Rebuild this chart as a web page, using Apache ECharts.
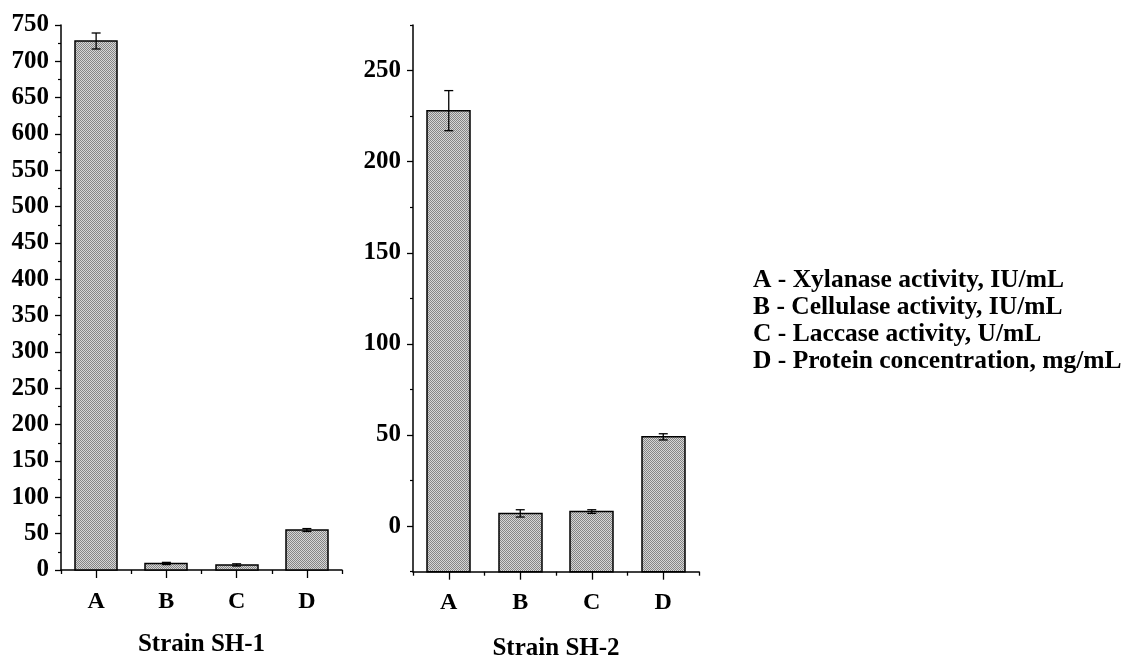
<!DOCTYPE html>
<html>
<head>
<meta charset="utf-8">
<script src="https://cdn.jsdelivr.net/npm/echarts@6/dist/echarts.min.js"></script>
<style>
html,body{margin:0;padding:0;background:#fff;}
#chart{width:1130px;height:661px;}
</style>
</head>
<body>
<div id="chart"></div>
<script>
var categories = ['A', 'B', 'C', 'D'];
var sh1Values = [728, 9, 7, 55];
var sh1Errors = [11, 1.5, 1.5, 2];
var sh2Values = [228, 7, 8, 49];
var sh2Errors = [11, 2, 1, 1.7];
var sh1Ticks = [0, 50, 100, 150, 200, 250, 300, 350, 400, 450, 500, 550, 600, 650, 700, 750];
var sh2Ticks = [0, 50, 100, 150, 200, 250];
var sh2MinorTicks = [-25, 25, 75, 125, 175, 225, 275];
var panelNames = ['Strain SH-1', 'Strain SH-2'];
var legendLines = [
  'A - Xylanase activity, IU/mL',
  'B - Cellulase activity, IU/mL',
  'C - Laccase activity, U/mL',
  'D - Protein concentration, mg/mL'
];

var FONT = '"Liberation Serif", "Times New Roman", serif';

// dithered grey fill similar to the halftone texture of the original
var patCanvas = document.createElement('canvas');
patCanvas.width = 2; patCanvas.height = 2;
(function () {
  var g = patCanvas.getContext('2d');
  g.fillStyle = '#d6d6d6'; g.fillRect(0, 0, 2, 2);
  g.fillStyle = '#858585'; g.fillRect(0, 0, 1, 1); g.fillRect(1, 1, 1, 1);
})();
var BAR_FILL = { image: patCanvas, repeat: 'repeat' };

function makeRender(baseValue) {
  return function (params, api) {
    var c = api.value(0), v = api.value(1), e = api.value(2);
    var top = api.coord([c, v]);
    var base = api.coord([c, baseValue]);
    var bw = api.size([1, 0])[0] * 0.6;
    var eTop = api.coord([c, v + e]);
    var eBot = api.coord([c, v - e]);
    var cap = 4.5;
    var lw = { stroke: '#000', lineWidth: 1.3 };
    return {
      type: 'group',
      children: [
        { type: 'rect', shape: { x: Math.round(top[0] - bw / 2), y: top[1], width: Math.round(bw), height: base[1] - top[1] },
          style: { fill: BAR_FILL, stroke: '#000', lineWidth: 1.5 } },
        { type: 'line', shape: { x1: top[0], y1: eTop[1], x2: top[0], y2: eBot[1] }, style: lw },
        { type: 'line', shape: { x1: top[0] - cap, y1: eTop[1], x2: top[0] + cap, y2: eTop[1] }, style: lw },
        { type: 'line', shape: { x1: top[0] - cap, y1: eBot[1], x2: top[0] + cap, y2: eBot[1] }, style: lw }
      ]
    };
  };
}

function toData(vals, errs) {
  return vals.map(function (v, i) { return [i, v, errs[i]]; });
}

var axisLineStyle = { color: '#000', width: 1.5 };

function mainX(gridIndex, name, nameGap, labelMargin) {
  return {
    type: 'category', gridIndex: gridIndex, data: categories, position: 'bottom',
    axisLine: { show: true, onZero: false, lineStyle: axisLineStyle },
    axisTick: { show: true, length: 4, lineStyle: { color: '#000', width: 1.3 } },
    axisLabel: { color: '#000', fontFamily: FONT, fontWeight: 'bold', fontSize: 24, margin: labelMargin },
    name: name, nameLocation: 'middle', nameGap: nameGap,
    nameTextStyle: { color: '#000', fontFamily: FONT, fontWeight: 'bold', fontSize: 25 },
    splitLine: { show: false }
  };
}
function centerX(gridIndex) {
  return {
    type: 'category', gridIndex: gridIndex, data: categories, position: 'bottom',
    axisLine: { show: false, onZero: false },
    axisTick: { show: true, alignWithLabel: true, length: 8, lineStyle: { color: '#000', width: 1.3 } },
    axisLabel: { show: false },
    splitLine: { show: false }
  };
}

var yLabel = { color: '#000', fontFamily: FONT, fontWeight: 'bold', fontSize: 25, margin: 12 };

var option = {
  backgroundColor: '#fff',
  animation: false,
  grid: [
    { left: 61, top: 25, width: 281, height: 545, outerBoundsMode: 'none', containLabel: false },
    { left: 413, top: 25, width: 286, height: 546.7, outerBoundsMode: 'none', containLabel: false }
  ],
  xAxis: [
    mainX(0, panelNames[0], 62, 20),
    centerX(0),
    mainX(1, panelNames[1], 64, 19),
    centerX(1)
  ],
  yAxis: [
    {
      type: 'value', gridIndex: 0, min: 0, max: 750, interval: 50,
      axisLine: { show: true, lineStyle: axisLineStyle },
      axisTick: { show: true, length: 6, lineStyle: { color: '#000', width: 1.3 } },
      minorTick: { show: true, splitNumber: 2, length: 3, lineStyle: { color: '#000', width: 1.2 } },
      axisLabel: yLabel,
      splitLine: { show: false }
    },
    {
      type: 'value', gridIndex: 1, min: -25, max: 275, position: 'left',
      axisLine: { show: true, onZero: false, lineStyle: axisLineStyle },
      axisTick: { show: true, length: 6, customValues: sh2Ticks, lineStyle: { color: '#000', width: 1.3 } },
      axisLabel: Object.assign({ customValues: sh2Ticks }, yLabel),
      splitLine: { show: false }
    },
    {
      type: 'value', gridIndex: 1, min: -25, max: 275, position: 'left', offset: 0,
      axisLine: { show: false, onZero: false },
      axisTick: { show: true, length: 3, customValues: sh2MinorTicks, lineStyle: { color: '#000', width: 1.2 } },
      axisLabel: { show: false },
      splitLine: { show: false }
    }
  ],
  series: [
    {
      type: 'custom', xAxisIndex: 0, yAxisIndex: 0,
      renderItem: makeRender(0), encode: { x: 0, y: 1 },
      data: toData(sh1Values, sh1Errors), clip: false
    },
    {
      type: 'custom', xAxisIndex: 2, yAxisIndex: 1,
      renderItem: makeRender(-25), encode: { x: 0, y: 1 },
      data: toData(sh2Values, sh2Errors), clip: false
    }
  ],
  graphic: legendLines.map(function (t, i) {
    return {
      type: 'text', left: 753, top: 267 + i * 27.3,
      style: { text: t, fill: '#000', font: 'bold 25.5px ' + FONT }
    };
  })
};

var chart = echarts.init(document.getElementById('chart'), null, { renderer: 'canvas' });
chart.setOption(option);
</script>
</body>
</html>
